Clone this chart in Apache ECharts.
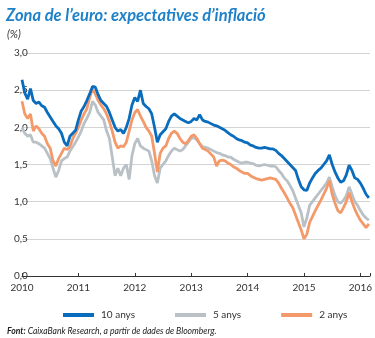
<!DOCTYPE html>
<html><head><meta charset="utf-8">
<script src="https://cdn.jsdelivr.net/npm/echarts@6/dist/echarts.min.js"></script>
<style>html,body{margin:0;padding:0;background:#fff}#c{width:375px;height:338px}</style>
</head><body><div id="c"></div>
<script>
// Time (fractional years), sampled every ~0.05 year
const years = [
2010.00,2010.05,2010.10,2010.15,2010.20,2010.25,2010.30,2010.35,2010.40,2010.45,2010.50,2010.55,2010.60,2010.65,2010.70,2010.75,2010.80,2010.85,2010.90,2010.95,
2011.00,2011.05,2011.10,2011.15,2011.20,2011.25,2011.30,2011.35,2011.40,2011.45,2011.50,2011.55,2011.60,2011.65,2011.70,2011.75,2011.80,2011.85,2011.90,2011.95,
2012.00,2012.05,2012.10,2012.15,2012.20,2012.25,2012.30,2012.35,2012.40,2012.45,2012.50,2012.55,2012.60,2012.65,2012.70,2012.75,2012.80,2012.85,2012.90,2012.95,
2013.00,2013.05,2013.10,2013.15,2013.20,2013.25,2013.30,2013.35,2013.40,2013.45,2013.50,2013.55,2013.60,2013.65,2013.70,2013.75,2013.80,2013.85,2013.90,2013.95,
2014.00,2014.05,2014.10,2014.15,2014.20,2014.25,2014.30,2014.35,2014.40,2014.45,2014.50,2014.55,2014.60,2014.65,2014.70,2014.75,2014.80,2014.85,2014.90,2014.95,
2015.00,2015.05,2015.10,2015.15,2015.20,2015.25,2015.30,2015.35,2015.40,2015.45,2015.50,2015.55,2015.60,2015.65,2015.70,2015.75,2015.80,2015.85,2015.90,2015.95,
2016.00,2016.05,2016.10,2016.15];

const anys10 = [
2.64,2.46,2.38,2.52,2.36,2.32,2.34,2.29,2.27,2.20,2.14,2.08,2.02,1.98,1.92,1.80,1.75,1.88,1.92,1.96,
2.10,2.22,2.28,2.36,2.45,2.55,2.54,2.44,2.36,2.32,2.28,2.20,2.10,2.00,1.95,1.97,1.92,2.00,2.12,2.30,
2.40,2.35,2.50,2.32,2.28,2.25,2.18,2.00,1.80,1.90,1.94,1.98,2.08,2.15,2.18,2.15,2.12,2.10,2.08,2.06,
2.08,2.12,2.10,2.17,2.10,2.08,2.07,2.05,2.03,2.02,2.00,1.98,1.96,1.93,1.90,1.88,1.85,1.83,1.82,1.80,
1.79,1.76,1.75,1.73,1.72,1.72,1.73,1.72,1.71,1.71,1.69,1.65,1.62,1.58,1.54,1.50,1.46,1.42,1.30,1.20,
1.16,1.15,1.25,1.32,1.38,1.42,1.45,1.50,1.55,1.63,1.50,1.40,1.32,1.26,1.28,1.36,1.49,1.42,1.32,1.30,
1.25,1.18,1.10,1.05];

const anys5 = [
2.00,1.92,1.88,1.90,1.80,1.80,1.78,1.75,1.72,1.65,1.58,1.45,1.33,1.42,1.55,1.58,1.60,1.68,1.74,1.80,
1.87,1.95,2.05,2.12,2.20,2.35,2.30,2.20,2.15,2.10,1.95,1.85,1.60,1.35,1.45,1.35,1.45,1.50,1.30,1.62,
1.78,1.85,1.75,1.72,1.70,1.68,1.55,1.35,1.25,1.45,1.50,1.55,1.62,1.68,1.72,1.70,1.68,1.70,1.75,1.80,
1.85,1.86,1.83,1.78,1.74,1.73,1.72,1.70,1.68,1.66,1.65,1.63,1.62,1.60,1.60,1.57,1.55,1.53,1.52,1.53,
1.53,1.52,1.51,1.49,1.48,1.49,1.50,1.49,1.48,1.48,1.47,1.42,1.38,1.32,1.28,1.22,1.15,1.05,0.95,0.85,
0.66,0.78,0.95,1.00,1.05,1.10,1.15,1.20,1.25,1.33,1.20,1.08,1.00,0.98,1.02,1.08,1.20,1.10,1.00,0.95,
0.88,0.82,0.78,0.75];

const anys2 = [
2.35,2.18,2.12,2.18,1.95,2.02,1.98,1.92,1.88,1.78,1.72,1.55,1.48,1.58,1.65,1.72,1.70,1.74,1.85,1.92,
2.00,2.10,2.18,2.25,2.40,2.52,2.45,2.36,2.30,2.25,2.18,2.08,1.95,1.80,1.72,1.75,1.74,1.80,1.95,2.10,
2.20,2.24,2.15,2.08,2.00,1.95,1.88,1.65,1.40,1.65,1.72,1.75,1.85,1.92,1.95,1.92,1.85,1.80,1.78,1.82,
1.88,1.90,1.85,1.78,1.72,1.70,1.68,1.64,1.60,1.48,1.55,1.56,1.55,1.52,1.50,1.47,1.45,1.42,1.40,1.38,
1.38,1.35,1.33,1.31,1.30,1.29,1.30,1.31,1.32,1.31,1.30,1.25,1.18,1.12,1.05,0.98,0.92,0.82,0.72,0.62,
0.50,0.56,0.72,0.80,0.88,0.95,1.02,1.10,1.18,1.28,1.10,0.98,0.88,0.85,0.92,1.00,1.12,1.00,0.90,0.82,
0.75,0.70,0.65,0.70];

const seriesNames = ['10 anys','5 anys','2 anys'];
const seriesColors = ['#0a6cbd','#b9c1c6','#f49a6a'];
const yTicks = [0,0.5,1,1.5,2,2.5,3];

const pairs = arr => years.map((y,i)=>[y,arr[i]]);
const chart = echarts.init(document.getElementById('c'), null, {renderer:'canvas'});
const F = 'Lato, "Open Sans", sans-serif';
chart.setOption({
  animation:false,
  title:[
    {text:'Zona de l\u2019euro: expectatives d\u2019inflació', left:1, top:2,
     textStyle:{fontFamily:F,fontStyle:'italic',fontWeight:'bold',fontSize:16.5,color:'#1f82c9'}},
    {text:'(%)', left:2, top:24, textStyle:{fontFamily:F,fontStyle:'italic',fontWeight:'normal',fontSize:11,color:'#333'}},
    {text:'{b|Font:} CaixaBank Research, a partir de dades de Bloomberg.', left:2, top:322,
     textStyle:{fontFamily:F,fontStyle:'italic',fontWeight:'normal',fontSize:8.6,color:'#222',
       rich:{b:{fontFamily:F,fontStyle:'italic',fontWeight:'bold',fontSize:8.6,color:'#222'}}}}
  ],
  legend:{left:58, top:305, itemWidth:31, itemHeight:4, itemGap:40, icon:'rect',
    textStyle:{fontFamily:F,fontSize:10,color:'#333',padding:[0,0,0,2]},
    data:seriesNames},
  grid:{left:22,right:4,top:53,bottom:62,containLabel:false},
  xAxis:{type:'value',min:2010,max:2016.17,interval:1,
    axisLine:{lineStyle:{color:'#333',width:1}},
    axisTick:{show:true,inside:true,length:3,lineStyle:{color:'#333'}},
    axisLabel:{margin:7,fontFamily:F,fontSize:10,color:'#333',
      formatter:v=> Math.abs(v-Math.round(v))<1e-6 ? String(Math.round(v)) : ''},
    splitLine:{show:false}},
  yAxis:{type:'value',min:0,max:3,interval:0.5,
    axisLine:{show:false},axisTick:{show:false},
    axisLabel:{margin:8,fontFamily:F,fontSize:10,color:'#333',align:'left',
      formatter:v=>v.toFixed(1).replace('.',',')},
    splitLine:{lineStyle:{color:'#d4d4d4',width:1}}},
  series:[
    {name:seriesNames[0],type:'line',data:pairs(anys10),showSymbol:false,lineStyle:{width:2.8,color:seriesColors[0]},itemStyle:{color:seriesColors[0]},z:3},
    {name:seriesNames[1],type:'line',data:pairs(anys5),showSymbol:false,lineStyle:{width:2.8,color:seriesColors[1]},itemStyle:{color:seriesColors[1]},z:1},
    {name:seriesNames[2],type:'line',data:pairs(anys2),showSymbol:false,lineStyle:{width:2.8,color:seriesColors[2]},itemStyle:{color:seriesColors[2]},z:2}
  ]
});
</script></body></html>
